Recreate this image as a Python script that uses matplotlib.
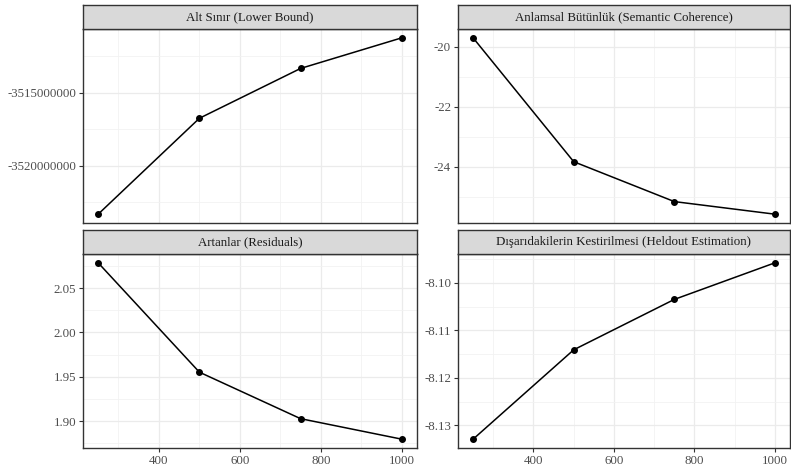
import matplotlib
matplotlib.use('Agg')
import matplotlib.pyplot as plt
from matplotlib.ticker import MultipleLocator, FuncFormatter

plt.rcParams['font.family'] = ['Liberation Serif', 'DejaVu Serif']

# data
topics = [250, 500, 750, 1000]
lower_bound = [-3523330000, -3516750000, -3513330000, -3511230000]
coherence = [-19.70, -23.83, -25.16, -25.58]
residuals = [2.0785, 1.9553, 1.9029, 1.8798]
heldout = [-8.1329, -8.1141, -8.1035, -8.0958]

titles = ["Alt Sınır (Lower Bound)", "Anlamsal Bütünlük (Semantic Coherence)",
          "Artanlar (Residuals)", "Dışarıdakilerin Kestirilmesi (Heldout Estimation)"]
series = [lower_bound, coherence, residuals, heldout]
y_major = [5000000, 2, 0.05, 0.01]
y_fmt = ['{:.0f}', '{:.0f}', '{:.2f}', '{:.2f}']

W, H = 791, 470
fig = plt.figure(figsize=(W / 100, H / 100), dpi=100)

# pixel boxes (left, right) and (strip top, panel top, panel bottom)
cols = [(83, 417), (458, 790)]
rows = [(5, 29, 223), (230, 254, 448)]

edge = '#333333'
for i, (vals, title) in enumerate(zip(series, titles)):
    r, c = divmod(i, 2)
    x0, x1 = cols[c]
    st, pt, pb = rows[r]
    ax = fig.add_axes([x0 / W, 1 - pb / H, (x1 - x0) / W, (pb - pt) / H])
    ax.plot(topics, vals, color='black', lw=1.1, marker='o', ms=4, zorder=3)
    ax.set_xlim(212.5, 1037.5)
    lo, hi = min(vals), max(vals)
    pad = (hi - lo) * 0.05
    ax.set_ylim(lo - pad, hi + pad)
    ax.xaxis.set_major_locator(MultipleLocator(200))
    ax.xaxis.set_minor_locator(MultipleLocator(100))
    ax.yaxis.set_major_locator(MultipleLocator(y_major[i]))
    ax.yaxis.set_minor_locator(MultipleLocator(y_major[i] / 2))
    fmt = y_fmt[i]
    ax.yaxis.set_major_formatter(FuncFormatter(lambda v, p, f=fmt: f.format(v)))
    ax.grid(which='major', color='#EBEBEB', lw=0.9)
    ax.grid(which='minor', color='#F2F2F2', lw=0.6)
    ax.set_axisbelow(True)
    for s in ax.spines.values():
        s.set_color(edge)
        s.set_linewidth(1.0)
    ax.tick_params(which='major', length=3, color=edge, labelsize=9.3,
                   labelcolor='#4D4D4D', pad=2)
    ax.tick_params(which='minor', length=0)
    if r == 0:
        ax.tick_params(axis='x', labelbottom=False, length=0)

    # strip on top of the panel
    sx = fig.add_axes([x0 / W, 1 - pt / H, (x1 - x0) / W, (pt - st) / H])
    sx.set_facecolor('#D9D9D9')
    sx.set_xticks([])
    sx.set_yticks([])
    for s in sx.spines.values():
        s.set_color(edge)
        s.set_linewidth(1.0)
    sx.text(0.5, 0.5, title, ha='center', va='center', fontsize=9.3,
            color='#1A1A1A', transform=sx.transAxes)

fig.savefig('out.png', dpi=100)
